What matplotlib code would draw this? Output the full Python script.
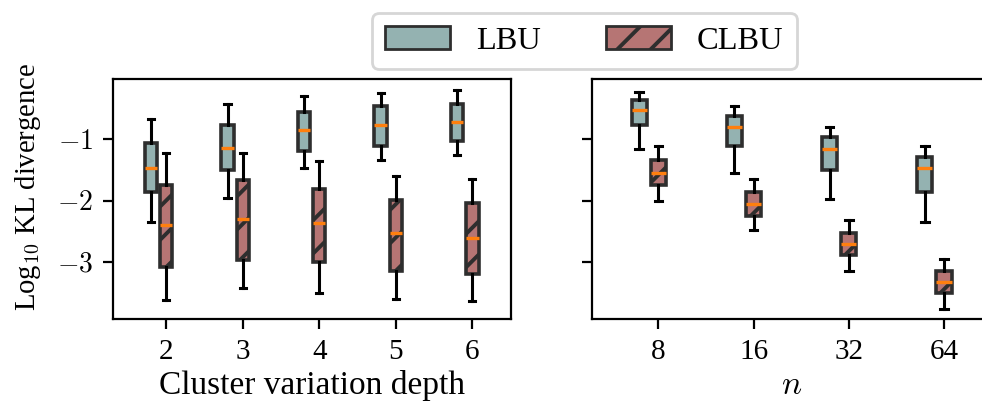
import matplotlib
matplotlib.use("Agg")
import matplotlib.pyplot as plt
from matplotlib.patches import Patch

plt.rcParams['font.family'] = 'serif'
plt.rcParams['font.serif'] = ['Liberation Serif', 'DejaVu Serif']
plt.rcParams['mathtext.fontset'] = 'cm'
plt.rcParams['hatch.linewidth'] = 1.4

# ---------------- data ----------------
depth_labels = ["2", "3", "4", "5", "6"]
lbu_depth_whishi = [-0.66, -0.43, -0.30, -0.24, -0.19]
lbu_depth_q3 = [-1.05, -0.77, -0.55, -0.46, -0.42]
lbu_depth_med = [-1.46, -1.14, -0.85, -0.76, -0.71]
lbu_depth_q1 = [-1.86, -1.50, -1.19, -1.10, -1.03]
lbu_depth_whislo = [-2.34, -1.95, -1.46, -1.34, -1.26]

clbu_depth_whishi = [-1.22, -1.22, -1.35, -1.60, -1.65]
clbu_depth_q3 = [-1.74, -1.66, -1.80, -1.99, -2.04]
clbu_depth_med = [-2.40, -2.30, -2.36, -2.53, -2.61]
clbu_depth_q1 = [-3.08, -2.96, -3.00, -3.15, -3.20]
clbu_depth_whislo = [-3.61, -3.42, -3.50, -3.60, -3.64]

n_labels = ["8", "16", "32", "64"]
lbu_n_whishi = [-0.22, -0.46, -0.80, -1.11]
lbu_n_q3 = [-0.36, -0.62, -0.96, -1.28]
lbu_n_med = [-0.52, -0.80, -1.15, -1.47]
lbu_n_q1 = [-0.77, -1.11, -1.50, -1.85]
lbu_n_whislo = [-1.15, -1.54, -1.97, -2.35]

clbu_n_whishi = [-1.11, -1.64, -2.31, -2.94]
clbu_n_q3 = [-1.34, -1.86, -2.53, -3.15]
clbu_n_med = [-1.54, -2.05, -2.70, -3.33]
clbu_n_q1 = [-1.75, -2.24, -2.88, -3.50]
clbu_n_whislo = [-2.00, -2.48, -3.14, -3.76]

ytick_values = [-3, -2, -1]
ytick_labels = ["$-3$", "$-2$", "$-1$"]

# ---------------- style ----------------
LBU_FACE = "#94b2b1"
CLBU_FACE = "#b67574"
EDGE = "#2e2e2e"
HATCH = "//"
DPI = 200
W_PX, H_PX = 982, 407


def make_stats(whislo, q1, med, q3, whishi):
    return [dict(whislo=a, q1=b, med=c, q3=d, whishi=e, fliers=[])
            for a, b, c, d, e in zip(whislo, q1, med, q3, whishi)]


def draw(ax, stats, positions, face, hatch=None):
    ax.bxp(stats, positions=positions, widths=0.16, patch_artist=True,
           showfliers=False, manage_ticks=False,
           boxprops=dict(facecolor=face, edgecolor=EDGE, linewidth=1.3, hatch=hatch),
           whiskerprops=dict(color="black", linewidth=1.1),
           capprops=dict(color="black", linewidth=1.1),
           medianprops=dict(color="#ff7f0e", linewidth=1.2))


fig = plt.figure(figsize=(W_PX / DPI, H_PX / DPI), dpi=DPI)

ax1 = fig.add_axes([112.7 / W_PX, 1 - 319.3 / H_PX, 398 / W_PX, 240 / H_PX])
ax2 = fig.add_axes([591.7 / W_PX, 1 - 319.3 / H_PX, 399.8 / W_PX, 240 / H_PX], sharey=ax1)

pos1 = list(range(1, len(depth_labels) + 1))
draw(ax1, make_stats(lbu_depth_whislo, lbu_depth_q1, lbu_depth_med, lbu_depth_q3, lbu_depth_whishi),
     [p - 0.2 for p in pos1], LBU_FACE)
draw(ax1, make_stats(clbu_depth_whislo, clbu_depth_q1, clbu_depth_med, clbu_depth_q3, clbu_depth_whishi),
     pos1, CLBU_FACE, hatch=HATCH)

pos2 = list(range(1, len(n_labels) + 1))
draw(ax2, make_stats(lbu_n_whislo, lbu_n_q1, lbu_n_med, lbu_n_q3, lbu_n_whishi),
     [p - 0.2 for p in pos2], LBU_FACE)
draw(ax2, make_stats(clbu_n_whislo, clbu_n_q1, clbu_n_med, clbu_n_q3, clbu_n_whishi),
     pos2, CLBU_FACE, hatch=HATCH)

ax1.set_xlim(0.3, 5.5)
ax2.set_xlim(0.3, 4.5)
ax1.set_ylim(-3.93, -0.02)

ax1.set_xticks(pos1)
ax1.set_xticklabels(depth_labels)
ax2.set_xticks(pos2)
ax2.set_xticklabels(n_labels)
ax1.set_yticks(ytick_values)
ax1.set_yticklabels(ytick_labels)
plt.setp(ax2.get_yticklabels(), visible=False)

for ax in (ax1, ax2):
    ax.tick_params(axis="x", labelsize=10.5)
    ax.tick_params(axis="y", labelsize=10)

ax1.set_xlabel("Cluster variation depth", fontsize=12, labelpad=2)
ax2.set_xlabel("$n$", fontsize=12, labelpad=2)
ax1.set_ylabel("Log$_{10}$ KL divergence", fontsize=10.3, labelpad=5)
ax1.yaxis.label.set_y(0.553)

handles = [Patch(facecolor=LBU_FACE, edgecolor=EDGE, label="LBU"),
           Patch(facecolor=CLBU_FACE, edgecolor=EDGE, hatch=HATCH, label="CLBU")]
fig.legend(handles=handles, loc="upper center", ncol=2, fontsize=11.7,
           borderaxespad=0, bbox_to_anchor=(584.5 / W_PX, 1 - 13 / H_PX))

fig.savefig("out.png", dpi=DPI)
